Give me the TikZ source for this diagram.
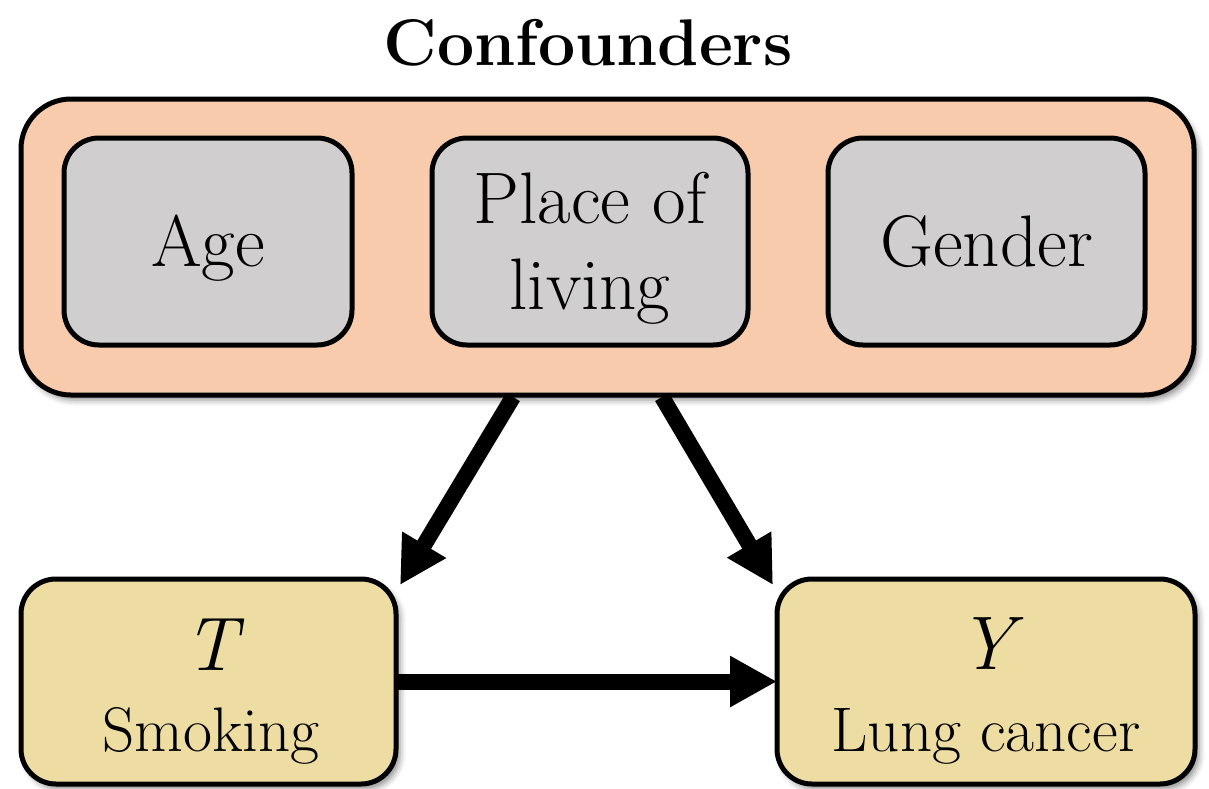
\documentclass[tikz,border=0pt]{standalone}
\usepackage{fontspec}
\usetikzlibrary{arrows.meta,shadows.blur}
\definecolor{peach}{HTML}{F8CBAD}
\definecolor{greybox}{HTML}{D0CECE}
\definecolor{sand}{HTML}{EDDDA3}
\begin{document}
\begin{tikzpicture}[x=0.5pt,y=-0.5pt,
  box/.style={draw=black, line width=2.5pt, rounded corners=17.5pt,
    inner sep=0pt, outer sep=0pt},
  softshadow/.style={blur shadow={shadow xshift=2pt, shadow yshift=-2.5pt,
    shadow blur radius=3pt, shadow opacity=45}},
  lab/.style={inner sep=0pt, anchor=base},
  inlab/.style={lab, font=\fontsize{36.5pt}{42pt}\selectfont},
  varlab/.style={lab, font=\fontsize{38pt}{44pt}\selectfont\itshape},
  desclab/.style={lab, font=\fontsize{31.5pt}{37pt}\selectfont},
  arrowline/.style={line width=8pt, -{Triangle[length=23.5pt,width=24pt]}}]
\useasboundingbox (0,0) rectangle (1209,788);

% title
\node[lab, font=\fontsize{33pt}{40pt}\selectfont\bfseries] (title) at (588,65) {Confounders};

% confounder group
\node[box, softshadow, fill=peach, rounded corners=25pt,
  minimum width=586.5pt, minimum height=148pt] (conf) at (607.5,247) {};
\node[box, fill=greybox, minimum width=144pt, minimum height=103.5pt] (age) at (208,241.5) {};
\node[box, fill=greybox, minimum width=158pt, minimum height=103.5pt] (place) at (590,241.5) {};
\node[box, fill=greybox, minimum width=158.5pt, minimum height=103.5pt] (gender) at (986.5,241.5) {};
\node[inlab] (agetxt) at (208,266) {Age};
\node[inlab] (placetxt) at (590,223) {Place of};
\node[inlab] (livingtxt) at (590,309) {living};
\node[inlab] (gendertxt) at (986.5,266) {Gender};

% treatment and outcome
\node[box, softshadow, fill=sand, minimum width=187.5pt, minimum height=102.5pt] (t) at (208.5,681.5) {};
\node[box, softshadow, fill=sand, minimum width=209pt, minimum height=102.5pt] (y) at (986,681.5) {};
\node[varlab] (tvar) at (211,670) {T};
\node[desclab] (tdesc) at (211,751) {Smoking};
\node[varlab] (yvar) at (986,669) {Y};
\node[desclab] (ydesc) at (986,751) {Lung cancer};

% causal arrows
\coordinate (s1) at (513,397);
\coordinate (e1) at (400,585);
\coordinate (s2) at (662,397);
\coordinate (e2) at (773,585);
\draw[arrowline] (s1) -- (e1);
\draw[arrowline] (s2) -- (e2);
\draw[arrowline] (t.east) -- (y.west);
\end{tikzpicture}
\end{document}
